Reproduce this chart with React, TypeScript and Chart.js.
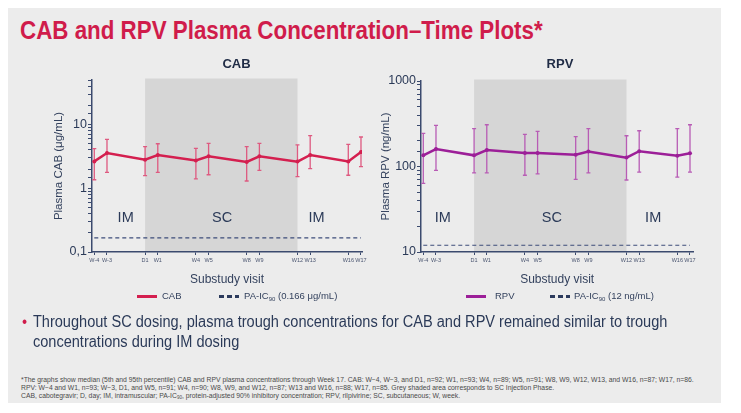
import React, { useEffect, useRef } from "react";
import { Chart, registerables } from "chart.js";
Chart.register(...registerables);

const FONT = '"Liberation Sans", Arial, Helvetica, sans-serif';

// ---- data ----
const VISITS = ["W-4", "W-3", "D1", "W1", "W4", "W5", "W8", "W9", "W12", "W13", "W16", "W17"];
const WEEKS = [-4, -3, 0, 1, 4, 5, 8, 9, 12, 13, 16, 17];

const CAB_MEDIAN = [2.64, 3.58, 2.81, 3.33, 2.74, 3.17, 2.59, 3.17, 2.62, 3.33, 2.64, 3.72];
const CAB_P95 = [4.2, 5.86, 4.5, 5.0, 4.23, 5.07, 4.5, 5.07, 4.79, 6.7, 4.89, 6.38];
const CAB_P5 = [1.36, 1.78, 1.58, 1.78, 1.4, 1.63, 1.3, 1.91, 1.52, 2.03, 1.6, 2.18];
const CAB_PAIC90 = 0.166;
const CAB_Y_TICKS = [0.1, 1, 10];
const CAB_Y_LABELS = ["0,1", "1", "10"];

const RPV_MEDIAN = [135, 160, 135, 156, 144, 144, 137, 150, 127, 151, 134, 143];
const RPV_P95 = [244, 303, 277, 308, 238, 258, 223, 277, 229, 262, 277, 308];
const RPV_P5 = [63.6, 90, 84, 84, 79, 82, 70.8, 84, 69.5, 86, 75, 86];
const RPV_PAIC90 = 12;
const RPV_Y_TICKS = [10, 100, 1000];
const RPV_Y_LABELS = ["10", "100", "1000"];

const SC_PHASE = [0, 12];
const PHASE_LABELS = ["IM", "SC", "IM"];
const CAB_PHASE_X = [-1.53, 6.06, 13.5];
const CAB_PHASE_Y = 0.345;
const RPV_PHASE_X = [-2.47, 6.13, 14.1];
const RPV_PHASE_Y = 25;

const overlayPlugin = {
  id: "overlay",
  beforeDraw(chart: any, _a: any, o: any) {
    const { ctx, chartArea: ca, scales } = chart;
    const x0 = scales.x.getPixelForValue(o.shade[0]);
    const x1 = scales.x.getPixelForValue(o.shade[1]);
    ctx.save();
    ctx.fillStyle = o.shadeColor;
    ctx.fillRect(x0, ca.top - 1.5, x1 - x0, ca.bottom - ca.top + 1.5);
    ctx.restore();
  },
  beforeDatasetsDraw(chart: any, _a: any, o: any) {
    const { ctx, scales } = chart;
    const xs = scales.x, ys = scales.y;
    ctx.save();
    ctx.font = `14.5px ${FONT}`;
    ctx.fillStyle = "#2b3a58";
    ctx.textAlign = "center";
    ctx.textBaseline = "middle";
    o.labels.forEach((t: string, i: number) => {
      ctx.fillText(t, xs.getPixelForValue(o.labelX[i]), ys.getPixelForValue(o.labelY));
    });
    ctx.strokeStyle = o.errColor;
    ctx.lineWidth = 1.3;
    o.weeks.forEach((w: number, i: number) => {
      const px = xs.getPixelForValue(w);
      const yt = ys.getPixelForValue(o.hi[i]);
      const yb = ys.getPixelForValue(o.lo[i]);
      ctx.beginPath();
      ctx.moveTo(px, yt);
      ctx.lineTo(px, yb);
      ctx.moveTo(px - 2, yt);
      ctx.lineTo(px + 2, yt);
      ctx.moveTo(px - 2, yb);
      ctx.lineTo(px + 2, yb);
      ctx.stroke();
    });
    ctx.restore();
  },
  afterDraw(chart: any, _a: any, o: any) {
    const { ctx, chartArea: ca, scales } = chart;
    ctx.save();
    ctx.font = `bold 13px ${FONT}`;
    ctx.fillStyle = "#1f2b45";
    ctx.textAlign = "center";
    ctx.textBaseline = "middle";
    ctx.fillText(o.title, scales.x.getPixelForValue(o.titleX), ca.top + o.titleDy);
    ctx.restore();
  },
};

type PanelProps = {
  title: string;
  titleX: number;
  titleDy: number;
  median: number[];
  hi: number[];
  lo: number[];
  paic: number;
  yMin: number;
  yMax: number;
  yTicks: number[];
  yLabels: string[];
  yTitle: string;
  yTitlePad: number;
  yAxisWidth: number;
  xMin: number;
  xMax: number;
  lineColor: string;
  errColor: string;
  phaseX: number[];
  phaseY: number;
  padTop: number;
  padRight: number;
  width: number;
  height: number;
  left: number;
  top: number;
};

function Panel(p: PanelProps) {
  const ref = useRef<HTMLCanvasElement>(null);
  useEffect(() => {
    if (!ref.current) return;
    const axisColor = "#3b4a6e";
    const chart = new Chart(ref.current, {
      type: "line",
      data: {
        datasets: [
          {
            data: WEEKS.map((w, i) => ({ x: w, y: p.median[i] })),
            borderColor: p.lineColor,
            backgroundColor: p.lineColor,
            borderWidth: 2.5,
            pointRadius: 2,
            pointBorderWidth: 0,
            tension: 0,
          },
          {
            data: [
              { x: WEEKS[0], y: p.paic },
              { x: WEEKS[WEEKS.length - 1], y: p.paic },
            ],
            borderColor: "#3d4c7a",
            borderWidth: 1.2,
            borderDash: [4, 3],
            pointRadius: 0,
          },
        ],
      },
      options: {
        animation: false,
        responsive: false,
        maintainAspectRatio: false,
        devicePixelRatio: 1,
        layout: { padding: { top: p.padTop, right: p.padRight, left: 0, bottom: 0 } },
        plugins: {
          legend: { display: false },
          tooltip: { enabled: false },
          title: { display: false },
          overlay: {
            shade: SC_PHASE,
            shadeColor: "#d6d6d6",
            labels: PHASE_LABELS,
            labelX: p.phaseX,
            labelY: p.phaseY,
            weeks: WEEKS,
            hi: p.hi,
            lo: p.lo,
            errColor: p.errColor,
            title: p.title,
            titleX: p.titleX,
            titleDy: p.titleDy,
          },
        } as any,
        scales: {
          x: {
            type: "linear",
            min: p.xMin,
            max: p.xMax,
            afterBuildTicks: (s: any) => {
              s.ticks = WEEKS.map((v) => ({ value: v }));
            },
            afterFit: (s: any) => {
              s.height = 42;
            },
            ticks: {
              callback: (v: any) => {
                const i = WEEKS.indexOf(Number(v));
                return i >= 0 ? VISITS[i] : "";
              },
              font: { size: 5.5, family: FONT },
              color: "#4a5570",
              padding: 2,
              autoSkip: false,
              maxRotation: 0,
              minRotation: 0,
            },
            grid: { drawOnChartArea: false, tickLength: 3, color: axisColor },
            border: { color: axisColor, width: 1.5 },
            title: {
              display: true,
              text: "Substudy visit",
              font: { size: 12, family: FONT },
              color: "#34425e",
              padding: { top: 0, bottom: 6.8 },
            },
          },
          y: {
            type: "logarithmic",
            min: p.yMin,
            max: p.yMax,
            afterFit: (s: any) => {
              s.width = p.yAxisWidth;
            },
            ticks: {
              callback: (v: any) => {
                const n = Number(v);
                const i = p.yTicks.findIndex((t) => Math.abs(Math.log10(t) - Math.log10(n)) < 1e-6);
                return i >= 0 ? p.yLabels[i] : "";
              },
              font: { size: 12.5, family: FONT },
              color: "#2b3a58",
              padding: 1,
              autoSkip: false,
            },
            grid: { drawOnChartArea: false, tickLength: 4, color: axisColor },
            border: { color: axisColor, width: 1.5 },
            title: {
              display: true,
              text: p.yTitle,
              font: { size: 11.5, family: FONT },
              color: "#34425e",
              padding: { top: p.yTitlePad, bottom: 0 },
            },
          },
        },
      },
      plugins: [overlayPlugin],
    } as any);
    return () => chart.destroy();
  }, []);
  return (
    <canvas
      ref={ref}
      width={p.width}
      height={p.height}
      style={{ position: "absolute", left: p.left, top: p.top, width: p.width, height: p.height }}
    />
  );
}

const legendText: React.CSSProperties = {
  position: "absolute",
  fontFamily: FONT,
  fontSize: 9.5,
  color: "#34425e",
  lineHeight: "12px",
  top: 282,
  whiteSpace: "nowrap",
};

function SolidSwatch({ left, color }: { left: number; color: string }) {
  return (
    <div style={{ position: "absolute", left, top: 287, width: 20, height: 2.5, background: color }} />
  );
}
function DashSwatch({ left }: { left: number }) {
  return (
    <div
      style={{
        position: "absolute",
        left,
        top: 287,
        width: 20,
        height: 2.5,
        background: "repeating-linear-gradient(to right, #2b3a5c 0 5px, transparent 5px 8px)",
      }}
    />
  );
}

export default function App() {
  return (
    <div
      style={{
        position: "relative",
        width: 713,
        height: 395,
        background: "#ececec",
        overflow: "hidden",
        fontFamily: FONT,
      }}
    >
      <div
        style={{
          position: "absolute",
          left: 12,
          top: 9,
          fontSize: 26,
          lineHeight: "26px",
          fontWeight: "bold",
          color: "#d01c4b",
          whiteSpace: "nowrap",
          transform: "scaleX(0.86)",
          transformOrigin: "left top",
        }}
      >
        CAB and RPV Plasma Concentration–Time Plots*
      </div>

      <Panel
        title="CAB"
        titleX={7.2}
        titleDy={-16}
        median={CAB_MEDIAN}
        hi={CAB_P95}
        lo={CAB_P5}
        paic={CAB_PAIC90}
        yMin={0.1}
        yMax={50}
        yTicks={CAB_Y_TICKS}
        yLabels={CAB_Y_LABELS}
        yTitle="Plasma CAB (μg/mL)"
        yTitlePad={22}
        yAxisWidth={62}
        xMin={-4.18}
        xMax={17.08}
        lineColor="#d41f4f"
        errColor="#de5a80"
        phaseX={CAB_PHASE_X}
        phaseY={CAB_PHASE_Y}
        padTop={26}
        padRight={13}
        width={345}
        height={240}
        left={22}
        top={46}
      />
      <Panel
        title="RPV"
        titleX={6.76}
        titleDy={-17}
        median={RPV_MEDIAN}
        hi={RPV_P95}
        lo={RPV_P5}
        paic={RPV_PAIC90}
        yMin={10}
        yMax={1000}
        yTicks={RPV_Y_TICKS}
        yLabels={RPV_Y_LABELS}
        yTitle="Plasma RPV (ng/mL)"
        yTitlePad={7}
        yAxisWidth={49}
        xMin={-4.18}
        xMax={17.26}
        lineColor="#9c1f98"
        errColor="#b85cb5"
        phaseX={RPV_PHASE_X}
        phaseY={RPV_PHASE_Y}
        padTop={27}
        padRight={13.7}
        width={335}
        height={240}
        left={364}
        top={46}
      />

      <SolidSwatch left={129} color="#d41f4f" />
      <div style={{ ...legendText, left: 154 }}>CAB</div>
      <DashSwatch left={211} />
      <div style={{ ...legendText, left: 236 }}>
        PA-IC<sub style={{ fontSize: 6, verticalAlign: "-2px" }}>90</sub> (0.166 μg/mL)
      </div>

      <SolidSwatch left={458} color="#9c1f98" />
      <div style={{ ...legendText, left: 487 }}>RPV</div>
      <DashSwatch left={542} />
      <div style={{ ...legendText, left: 566 }}>
        PA-IC<sub style={{ fontSize: 6, verticalAlign: "-2px" }}>90</sub> (12 ng/mL)
      </div>

      <div
        style={{
          position: "absolute",
          left: 14,
          top: 304,
          width: 760,
          fontSize: 16,
          lineHeight: "20px",
          color: "#2b3a58",
          transform: "scaleX(0.91)",
          transformOrigin: "left top",
        }}
      >
        <span style={{ position: "absolute", left: 0, top: 0, color: "#d01c4b" }}>•</span>
        <div style={{ paddingLeft: 12 }}>
          Throughout SC dosing, plasma trough concentrations for CAB and RPV remained similar to trough
          <br />
          concentrations during IM dosing
        </div>
      </div>

      <div
        style={{
          position: "absolute",
          left: 13,
          top: 368,
          fontSize: 6.8,
          lineHeight: "8px",
          color: "#4a4a4a",
          whiteSpace: "nowrap",
        }}
      >
        <div>
          *The graphs show median (5th and 95th percentile) CAB and RPV plasma concentrations through Week 17. CAB: W−4, W−3, and D1, n=92; W1, n=93; W4, n=89; W5, n=91; W8, W9, W12, W13, and W16, n=87; W17, n=86.
        </div>
        <div>
          RPV: W−4 and W1, n=93; W−3, D1, and W5, n=91; W4, n=90; W8, W9, and W12, n=87; W13 and W16, n=88; W17, n=85. Grey shaded area corresponds to SC Injection Phase.
        </div>
        <div>
          CAB, cabotegravir; D, day; IM, intramuscular; PA-IC<sub style={{ fontSize: 4.5, verticalAlign: "-1px" }}>90</sub>, protein-adjusted 90% inhibitory concentration; RPV, rilpivirine; SC, subcutaneous; W, week.
        </div>
      </div>
    </div>
  );
}
